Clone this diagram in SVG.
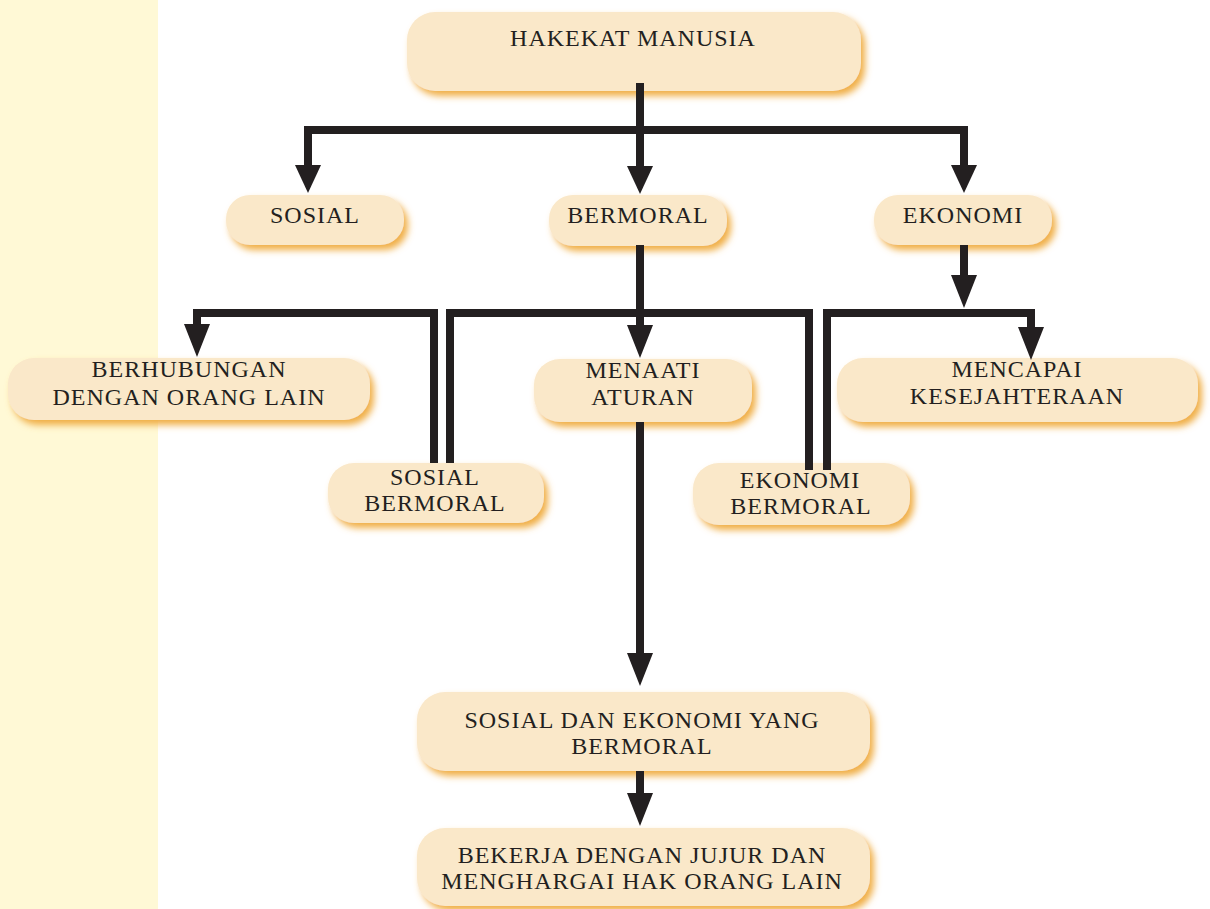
<svg xmlns="http://www.w3.org/2000/svg" width="1210" height="909" viewBox="0 0 1210 909">
<style>
.box{fill:#FAE8C9;filter:url(#sh)}
.t{font-family:"Liberation Serif","Times New Roman",serif;font-size:24px;fill:#231F20;text-anchor:middle;letter-spacing:1px}
.c{fill:none;stroke:#231F20;stroke-width:8;stroke-linejoin:miter;stroke-linecap:butt}
</style>
<defs>
<filter id="sh" x="-10%" y="-30%" width="125%" height="170%">
<feDropShadow dx="4" dy="5" stdDeviation="3.5" flood-color="#F0AE45" flood-opacity="1"/>
</filter>
<marker id="a28" viewBox="0 0 28 26" refX="0" refY="13" markerWidth="28" markerHeight="26" markerUnits="userSpaceOnUse" orient="auto">
<path d="M0,0 L28,13 L0,26 Z" fill="#231F20"/>
</marker>
<marker id="a33" viewBox="0 0 33 26" refX="0" refY="13" markerWidth="33" markerHeight="26" markerUnits="userSpaceOnUse" orient="auto">
<path d="M0,0 L33,13 L0,26 Z" fill="#231F20"/>
</marker>
</defs>
<rect x="0" y="0" width="1210" height="909" fill="#FFFFFF"/>
<rect x="0" y="0" width="158" height="909" fill="#FFF9D6"/>

<g id="n-hakekat"><rect class="box" x="407" y="12" width="454" height="79" rx="28"/><text class="t" x="633" y="46">HAKEKAT MANUSIA</text></g>
<g id="n-sosial"><rect class="box" x="226" y="195" width="178" height="50" rx="24"/><text class="t" x="315" y="223">SOSIAL</text></g>
<g id="n-bermoral"><rect class="box" x="549" y="195" width="178" height="51" rx="24"/><text class="t" x="638" y="223">BERMORAL</text></g>
<g id="n-ekonomi"><rect class="box" x="874" y="195" width="178" height="50" rx="24"/><text class="t" x="963" y="223">EKONOMI</text></g>
<g id="n-berhubungan"><rect class="box" x="8" y="358" width="362" height="62" rx="26"/><text class="t" x="189" y="377">BERHUBUNGAN</text><text class="t" x="189" y="405">DENGAN ORANG LAIN</text></g>
<g id="n-menaati"><rect class="box" x="534" y="359" width="218" height="63" rx="26"/><text class="t" x="643" y="378">MENAATI</text><text class="t" x="643" y="405">ATURAN</text></g>
<g id="n-mencapai"><rect class="box" x="837" y="358" width="361" height="64" rx="26"/><text class="t" x="1017" y="377">MENCAPAI</text><text class="t" x="1017" y="404">KESEJAHTERAAN</text></g>
<g id="n-sosial-bermoral"><rect class="box" x="328" y="463" width="216" height="60" rx="26"/><text class="t" x="435" y="485">SOSIAL</text><text class="t" x="435" y="511">BERMORAL</text></g>
<g id="n-ekonomi-bermoral"><rect class="box" x="693" y="463" width="217" height="62" rx="26"/><text class="t" x="800" y="488">EKONOMI</text><text class="t" x="801" y="514">BERMORAL</text></g>
<g id="n-sosial-ekonomi"><rect class="box" x="417" y="692" width="453" height="79" rx="28"/><text class="t" x="642" y="728">SOSIAL DAN EKONOMI YANG</text><text class="t" x="642" y="754">BERMORAL</text></g>
<g id="n-bekerja"><rect class="box" x="417" y="828" width="453" height="78" rx="28"/><text class="t" x="642" y="863">BEKERJA DENGAN JUJUR DAN</text><text class="t" x="642" y="889">MENGHARGAI HAK ORANG LAIN</text></g>

<g id="connectors">
<path class="c" d="M640,83 V166" marker-end="url(#a28)"/>
<path class="c" d="M640,130 H308 V165" marker-end="url(#a28)"/>
<path class="c" d="M640,130 H964 V165" marker-end="url(#a28)"/>
<path class="c" d="M640,245 V325" marker-end="url(#a33)"/>
<path class="c" d="M450,463 V313 H809 V470"/>
<path class="c" d="M434,463 V313 H197 V324" marker-end="url(#a33)"/>
<path class="c" d="M964,245 V275" marker-end="url(#a33)"/>
<path class="c" d="M827,470 V313 H1031 V327" marker-end="url(#a33)"/>
<path class="c" d="M640,422 V653" marker-end="url(#a33)"/>
<path class="c" d="M640,771 V793" marker-end="url(#a33)"/>
</g>
</svg>
